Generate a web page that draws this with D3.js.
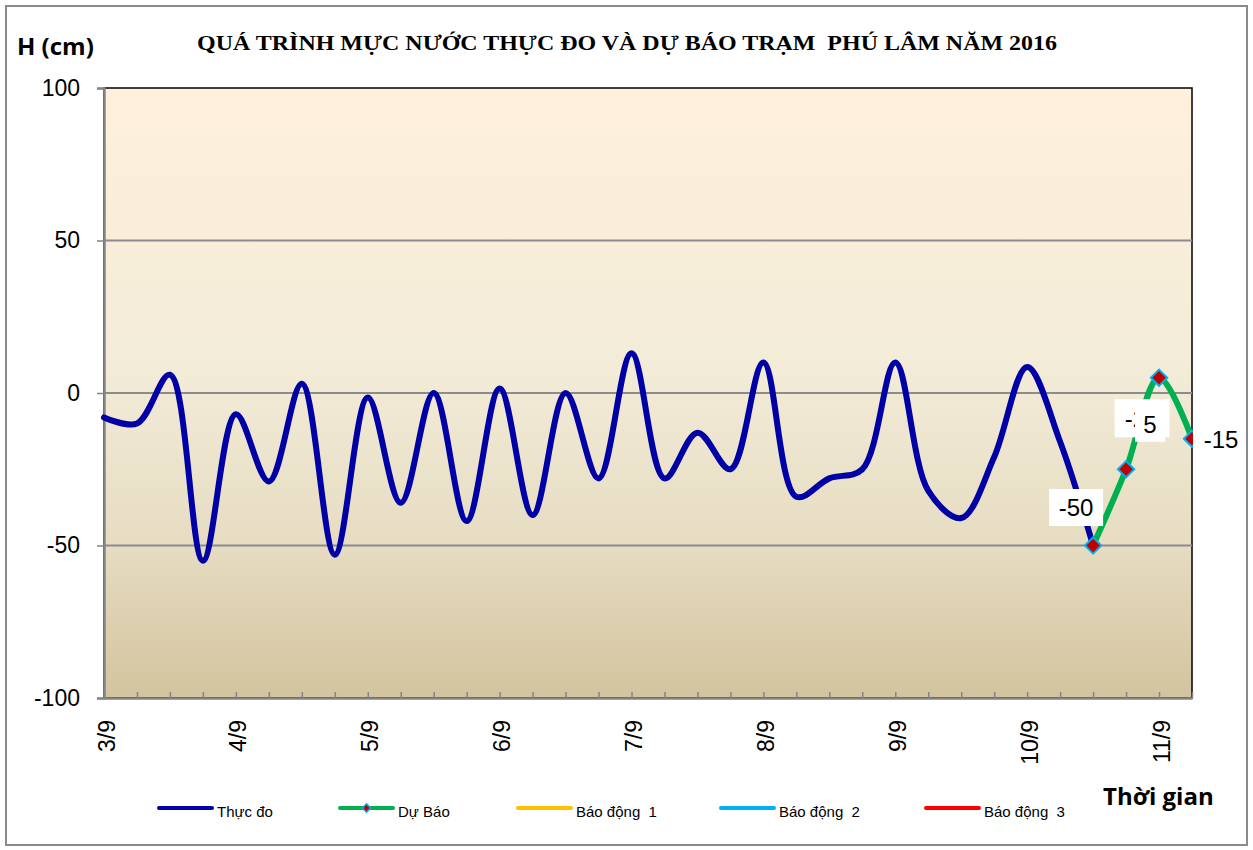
<!DOCTYPE html>
<html>
<head>
<meta charset="utf-8">
<script src="https://cdn.jsdelivr.net/npm/d3@7"></script>
<style>
  body { margin: 0; background: #fff; }
  svg { display: block; }
</style>
</head>
<body>
<div id="chart"></div>
<script>
// measured water level every 6 hours from 3/9 00h (cm)
var thucDo = [-8, -10, 6, -55, -7, -29, 3, -53, -1.5, -36, 0, -42, 1.5, -40, 0, -28,
  13, -28, -13, -25, 10, -34, -28, -25, 10, -32, -41, -21, 8.5, -16, -50];
// forecast, starts at the last measured point
var duBaoStart = 30;
var duBao = [-50, -25, 5, -15];
var dayLabels = ["3/9", "4/9", "5/9", "6/9", "7/9", "8/9", "9/9", "10/9", "11/9"];
var yTicks = [-100, -50, 0, 50, 100];
var legendNames = ["Thực đo", "Dự Báo", "Báo động  1", "Báo động  2", "Báo động  3"];
var legendColors = ["#0000A6", "#00B050", "#FFC000", "#00B0F0", "#FF0000"];

var W = 1253, H = 850;
var plotLeft = 104, plotRight = 1192, plotTop = 88, plotBottom = 698;
var nSteps = 33;
var fontSans = "Liberation Sans, Arial, sans-serif";

var svg = d3.select("#chart").append("svg")
  .attr("width", W).attr("height", H);

// chart border
svg.append("rect")
  .attr("x", 6).attr("y", 6).attr("width", 1241).attr("height", 839)
  .attr("fill", "#fff").attr("stroke", "#8a8a8a").attr("stroke-width", 2);

var x = d3.scaleLinear().domain([0, nSteps]).range([plotLeft, plotRight]);
var y = d3.scaleLinear().domain([-100, 100]).range([plotBottom, plotTop]);

// plot background gradient
var grad = svg.append("defs").append("linearGradient")
  .attr("id", "bg").attr("x1", 0).attr("y1", 0).attr("x2", 0).attr("y2", 1);
grad.append("stop").attr("offset", "0%").attr("stop-color", "#FEF0DC");
grad.append("stop").attr("offset", "45%").attr("stop-color", "#F3ECD8");
grad.append("stop").attr("offset", "75%").attr("stop-color", "#E6DCC2");
grad.append("stop").attr("offset", "100%").attr("stop-color", "#D3C49E");

svg.append("rect")
  .attr("x", plotLeft).attr("y", plotTop)
  .attr("width", plotRight - plotLeft).attr("height", plotBottom - plotTop)
  .attr("fill", "url(#bg)").attr("stroke", "#000").attr("stroke-width", 1.5);

// gridlines
svg.append("g").selectAll("line")
  .data(yTicks.filter(function (d) { return d > -100 && d < 100; }))
  .enter().append("line")
  .attr("x1", plotLeft).attr("x2", plotRight)
  .attr("y1", function (d) { return y(d); })
  .attr("y2", function (d) { return y(d); })
  .attr("stroke", "#8c8c8c").attr("stroke-width", 2);

// y axis (plain hyphen for minus, like the original)
var yAxis = svg.append("g")
  .attr("transform", "translate(" + plotLeft + ",0)")
  .call(d3.axisLeft(y).tickValues(yTicks).tickSize(7).tickPadding(17)
    .tickFormat(function (d) { return String(d); }));
yAxis.select(".domain").attr("stroke", "#858585").attr("stroke-width", 2.5);
yAxis.selectAll(".tick line").attr("stroke", "#858585").attr("stroke-width", 1.5);
yAxis.selectAll("text")
  .attr("font-family", fontSans)
  .attr("font-size", 23).attr("fill", "#000");

// x axis
var xAxis = svg.append("g")
  .attr("transform", "translate(0," + plotBottom + ")")
  .call(d3.axisBottom(x).tickValues(d3.range(0, nSteps + 1)).tickSizeInner(-6).tickSizeOuter(0)
    .tickFormat(function (i) { return i % 4 === 0 ? dayLabels[i / 4] : ""; }));
xAxis.select(".domain").attr("stroke", "#858585").attr("stroke-width", 2.5);
xAxis.selectAll(".tick line").attr("stroke", "#858585").attr("stroke-width", 1.5);
xAxis.selectAll("text")
  .attr("font-family", fontSans)
  .attr("font-size", 23).attr("fill", "#000")
  .attr("text-anchor", "end")
  .attr("transform", "translate(2,22) rotate(-90)")
  .attr("x", 0).attr("y", 0).attr("dy", "0.35em");

// lines
var line = d3.line()
  .x(function (d) { return x(d[0]); })
  .y(function (d) { return y(d[1]); })
  .curve(d3.curveCatmullRom.alpha(0.5));

svg.append("path")
  .datum(thucDo.map(function (v, i) { return [i, v]; }))
  .attr("d", line)
  .attr("fill", "none").attr("stroke", legendColors[0]).attr("stroke-width", 6)
  .attr("stroke-linejoin", "round").attr("stroke-linecap", "round");

var duBaoPts = duBao.map(function (v, i) { return [duBaoStart + i, v]; });
svg.append("path")
  .datum(duBaoPts)
  .attr("d", line)
  .attr("fill", "none").attr("stroke", legendColors[1]).attr("stroke-width", 6)
  .attr("stroke-linejoin", "round");

var diamond = d3.symbol().type(d3.symbolDiamond2).size(170);
svg.append("g").selectAll("path")
  .data(duBaoPts).enter().append("path")
  .attr("d", diamond)
  .attr("transform", function (d) { return "translate(" + x(d[0]) + "," + y(d[1]) + ")"; })
  .attr("fill", "#C00000").attr("stroke", "#00B0F0").attr("stroke-width", 2);

// data labels (offset from the point, box size)
var labelStyle = [
  { dx: -17, dy: -38, w: 54, h: 37 },
  { dx: 16, dy: -51, w: 55, h: 38 },
  { dx: -9, dy: 47, w: 30, h: 34 },
  { dx: 29, dy: 1, w: 51, h: 42 }
];
var lab = svg.append("g").selectAll("g")
  .data(duBaoPts).enter().append("g")
  .attr("transform", function (d, i) {
    return "translate(" + (x(d[0]) + labelStyle[i].dx) + "," + (y(d[1]) + labelStyle[i].dy) + ")";
  });
lab.append("rect")
  .attr("x", function (d, i) { return i === 3 ? -28 : -labelStyle[i].w / 2; })
  .attr("y", function (d, i) { return -labelStyle[i].h / 2; })
  .attr("width", function (d, i) { return labelStyle[i].w; })
  .attr("height", function (d, i) { return labelStyle[i].h; })
  .attr("fill", "#fff");
lab.append("text")
  .attr("text-anchor", "middle").attr("dy", "0.36em")
  .attr("font-family", fontSans)
  .attr("font-size", 24)
  .text(function (d) { return d[1]; });

// titles
svg.append("text")
  .attr("x", 197).attr("y", 50)
  .attr("textLength", 860).attr("lengthAdjust", "spacingAndGlyphs")
  .attr("font-family", "Liberation Serif, Times New Roman, serif")
  .attr("font-weight", "bold").attr("font-size", 21)
  .attr("xml:space", "preserve")
  .text("QUÁ TRÌNH MỰC NƯỚC THỰC ĐO VÀ DỰ BÁO TRẠM  PHÚ LÂM NĂM 2016");

svg.append("text")
  .attr("x", 17).attr("y", 55)
  .attr("font-family", "Open Sans, Liberation Sans, sans-serif")
  .attr("font-weight", "bold").attr("font-size", 24)
  .text("H (cm)");

svg.append("text")
  .attr("x", 1103).attr("y", 805)
  .attr("font-family", "Open Sans, Liberation Sans, sans-serif")
  .attr("font-weight", "bold").attr("font-size", 24)
  .text("Thời gian");

// legend
var legendX = [159, 340, 518, 721, 926];
var leg = svg.append("g").selectAll("g")
  .data(legendNames).enter().append("g")
  .attr("transform", function (d, i) { return "translate(" + legendX[i] + ",808)"; });
leg.append("line")
  .attr("x1", 0).attr("x2", 53).attr("y1", 0).attr("y2", 0)
  .attr("stroke", function (d, i) { return legendColors[i]; })
  .attr("stroke-width", 4).attr("stroke-linecap", "round");
leg.filter(function (d, i) { return i === 1; }).append("path")
  .attr("d", d3.symbol().type(d3.symbolDiamond2).size(45))
  .attr("transform", "translate(26.5,0)")
  .attr("fill", "#C00000").attr("stroke", "#00B0F0").attr("stroke-width", 1.5);
leg.append("text")
  .attr("x", 58).attr("y", 9)
  .attr("xml:space", "preserve")
  .attr("font-family", fontSans)
  .attr("font-size", 15)
  .text(function (d) { return d; });
</script>
</body>
</html>
